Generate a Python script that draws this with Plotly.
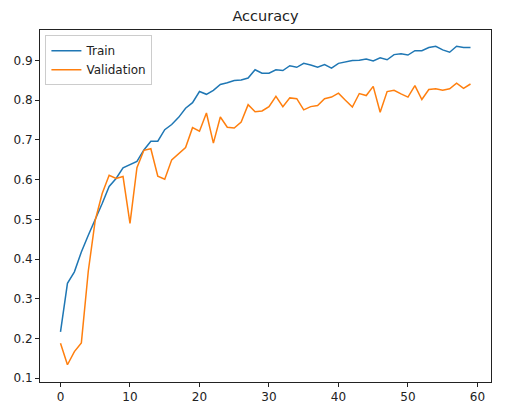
import plotly.graph_objects as go

epochs = list(range(60))
train_acc = [0.217, 0.339, 0.368, 0.418, 0.460, 0.498, 0.540, 0.583, 0.603, 0.630,
             0.638, 0.646, 0.675, 0.697, 0.697, 0.726, 0.739, 0.757, 0.780, 0.794,
             0.822, 0.815, 0.825, 0.840, 0.844, 0.850, 0.851, 0.856, 0.877, 0.868,
             0.868, 0.877, 0.875, 0.887, 0.883, 0.893, 0.889, 0.883, 0.890, 0.881,
             0.893, 0.897, 0.900, 0.901, 0.904, 0.899, 0.907, 0.902, 0.915, 0.917,
             0.914, 0.925, 0.925, 0.933, 0.936, 0.927, 0.921, 0.936, 0.933, 0.933]
val_acc = [0.188, 0.134, 0.167, 0.189, 0.370, 0.498, 0.565, 0.611, 0.603, 0.608,
           0.490, 0.630, 0.674, 0.678, 0.609, 0.601, 0.650, 0.666, 0.681, 0.731,
           0.722, 0.768, 0.692, 0.758, 0.732, 0.730, 0.745, 0.789, 0.771, 0.773,
           0.784, 0.810, 0.784, 0.806, 0.804, 0.776, 0.784, 0.787, 0.804, 0.808,
           0.818, 0.800, 0.783, 0.817, 0.812, 0.835, 0.770, 0.822, 0.825, 0.816,
           0.808, 0.837, 0.802, 0.827, 0.829, 0.825, 0.829, 0.843, 0.830, 0.841]
x_ticks = [0, 10, 20, 30, 40, 50, 60]
y_ticks = [0.1, 0.2, 0.3, 0.4, 0.5, 0.6, 0.7, 0.8, 0.9]

fig = go.Figure()
fig.add_trace(go.Scatter(x=epochs, y=train_acc, mode="lines", name="Train",
                         line=dict(color="#1f77b4", width=1.5)))
fig.add_trace(go.Scatter(x=epochs, y=val_acc, mode="lines", name="Validation",
                         line=dict(color="#ff7f0e", width=1.5)))

axis_common = dict(showgrid=False, zeroline=False, showline=True, linecolor="#222222",
                   linewidth=1, mirror=True, ticks="outside", ticklen=4, tickwidth=1,
                   tickcolor="#222222", tickfont=dict(size=12, color="#222222"),
                   automargin=False)

# page body has an 8px margin, so the figure is sized to fit the 530x411 window
fig.update_layout(
    width=514, height=395, autosize=False,
    paper_bgcolor="white", plot_bgcolor="white",
    font=dict(family="DejaVu Sans", size=12, color="#222222"),
    margin=dict(l=32, r=31, t=22, b=21, pad=0),
    title=dict(text="Accuracy", x=0.5, xanchor="center", xref="paper",
               y=1 - 8 / 395, yanchor="middle", yref="container",
               font=dict(size=14.5, color="#222222")),
    xaxis=dict(range=[-2.95, 61.95], tickvals=x_ticks, **axis_common),
    yaxis=dict(range=[0.0905, 0.977], tickvals=y_ticks, tickformat=".1f", **axis_common),
    legend=dict(x=0.012, y=0.985, xanchor="left", yanchor="top",
                bgcolor="rgba(255,255,255,0.8)", bordercolor="#cccccc", borderwidth=1,
                font=dict(size=12), itemwidth=30, tracegroupgap=0),
    showlegend=True,
)

fig.write_html("out.html")
